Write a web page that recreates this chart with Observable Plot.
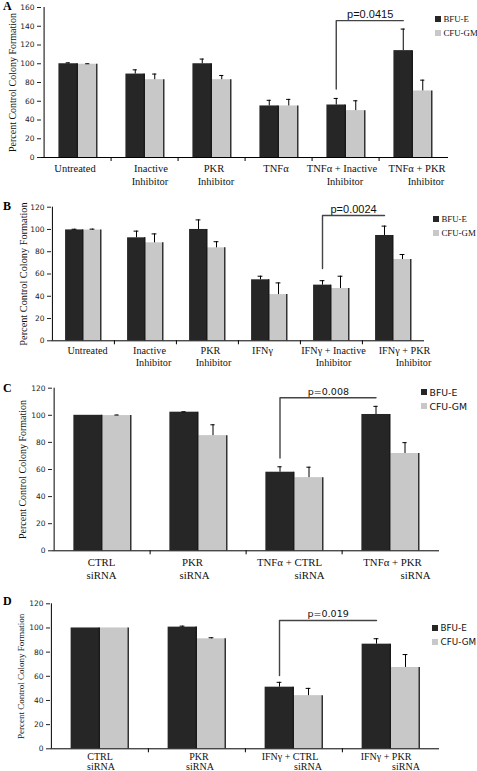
<!DOCTYPE html>
<html><head><meta charset="utf-8">
<script src="https://cdn.jsdelivr.net/npm/d3@7"></script>
<script src="https://cdn.jsdelivr.net/npm/@observablehq/plot@0.6"></script>
<style>
body{margin:0;background:#fff;}
#root{position:relative;width:477px;height:771px;overflow:hidden;background:#fff;}
.panel{position:absolute;left:0;}
.letter{position:absolute;left:3px;font:bold 12px "Liberation Serif",serif;line-height:12px;}
.legend{position:absolute;line-height:14px;color:#111;}
.legend .it{display:flex;align-items:center;height:14px;white-space:nowrap}
.sw{display:inline-block;width:5.5px;height:5.5px;margin-right:3px;flex:none}
</style></head><body><div id="root"></div>
<script>
const series = ["BFU-E", "CFU-GM"];
const colors = ["#262626", "#c8c8c8"];
const yLabel = "Percent Control Colony Formation";

// Panel A
const catsA = ["Untreated", "Inactive\nInhibitor", "PKR\nInhibitor", "TNFα", "TNFα + Inactive\nInhibitor", "TNFα + PKR\nInhibitor"];
const bfuA = [100, 89, 100, 55, 56, 114];
const bfuErrA = [1, 4.5, 5, 6, 7, 23];
const cfuA = [99.5, 83, 83, 55, 50, 71];
const cfuErrA = [0.5, 6, 4.5, 7, 10.5, 11.5];
const pA = "p=0.0415";
const bracketA = [73, 146];

// Panel B
const catsB = ["Untreated", "Inactive\nInhibitor", "PKR\nInhibitor", "IFNγ", "IFNγ + Inactive\nInhibitor", "IFNγ + PKR\nInhibitor"];
const bfuB = [99.6, 92.5, 100, 54.8, 50, 94.6];
const bfuErrB = [0.6, 6, 8.6, 3.2, 4, 8.4];
const cfuB = [99.5, 88, 83.5, 41.5, 47, 73];
const cfuErrB = [0.8, 8, 5.5, 10.5, 11, 4.5];
const pB = "p=0.0024";
const bracketB = [65, 112.5];

// Panel C
const catsC = ["CTRL\nsiRNA", "PKR\nsiRNA", "TNFα + CTRL\nsiRNA", "TNFα + PKR\nsiRNA"];
const bfuC = [100, 102.3, 58, 100.6];
const bfuErrC = [0, 0.3, 4, 6];
const cfuC = [99.8, 85, 54, 71.8];
const cfuErrC = [0.4, 8, 7.7, 8];
const pC = "p=0.008";
const bracketC = [68.4, 113];

// Panel D
const catsD = ["CTRL\nsiRNA", "PKR\nsiRNA", "IFNγ + CTRL\nsiRNA", "IFNγ + PKR\nsiRNA"];
const bfuD = [100, 100.7, 51, 86.6];
const bfuErrD = [0, 0.8, 4, 4.5];
const cfuD = [100, 91, 44, 67.3];
const cfuErrD = [0, 0.9, 6, 10.7];
const pD = "p=0.019";
const bracketD = [60.7, 106.2];

const yTicks = [0, 20, 40, 60, 80, 100, 120, 140, 160];

function panel(o) {
  const n = o.cats.length;
  const bw = (477 - o.ml - o.mr) / n;
  const w = o.barW;
  const rows = (vals, errs) => o.cats.map((c, i) => ({cat: c, value: vals[i], err: errs[i], top: vals[i] + errs[i]}));
  const b = rows(o.bfu, o.bfuErr), g = rows(o.cfu, o.cfuErr);
  const from = o.cats[o.cats.length - 2], to = o.cats[o.cats.length - 1];
  const bracket = [{x: from, y: o.bracket[0]}, {x: from, y: o.bracket[1]}, {x: to, y: o.bracket[1]}];
  const capInset = bw / 2 - 2.5;
  const labelFont = {frameAnchor: "bottom", lineAnchor: "top", fontFamily: "'Liberation Serif', serif", fontSize: o.labelSize, fill: "#111"};
  const labelMarks = [];
  o.cats.forEach((c, i) => {
    const [l1, l2] = c.split("\n");
    labelMarks.push(Plot.text([c], {x: d => d, text: () => l1, dy: o.labelDy, dx: o.shift[i][0], ...labelFont}));
    if (l2) labelMarks.push(Plot.text([c], {x: d => d, text: () => l2, dy: o.labelDy + o.lineGap, dx: o.shift[i][1], ...labelFont}));
  });
  return Plot.plot({
    width: 477, height: o.height,
    marginLeft: o.ml, marginRight: o.mr, marginTop: o.mt, marginBottom: o.mb,
    style: {fontFamily: "'DejaVu Sans', sans-serif", fontSize: "7.5px", color: "#222", background: "transparent", overflow: "visible"},
    x: {domain: o.cats, axis: null, padding: 0},
    y: {domain: [0, o.yMax], ticks: yTicks.filter(t => t <= o.yMax), tickSize: 4, tickPadding: 3, label: null},
    marks: [
      Plot.barY(b, {x: "cat", y: "value", fill: colors[0], insetLeft: bw / 2 - w, insetRight: bw / 2}),
      Plot.barY(g, {x: "cat", y: "value", fill: colors[1], insetLeft: bw / 2, insetRight: bw / 2 - w}),
      Plot.ruleX(b, {x: "cat", y1: 0, y2: "value", dx: -0.75, stroke: "#1a1a1a", strokeWidth: 1.5}),
      Plot.ruleX(g, {x: "cat", y1: 0, y2: "value", dx: w - 0.75, stroke: "#333", strokeWidth: 1.5}),
      Plot.ruleX(b.filter(d => d.err > 0), {x: "cat", y1: "value", y2: "top", dx: -w / 2, stroke: "#000"}),
      Plot.tickY(b.filter(d => d.err > 0), {x: "cat", y: "top", dx: -w / 2, insetLeft: capInset, insetRight: capInset, stroke: "#000"}),
      Plot.ruleX(g.filter(d => d.err > 0), {x: "cat", y1: "value", y2: "top", dx: w / 2, stroke: "#000"}),
      Plot.tickY(g.filter(d => d.err > 0), {x: "cat", y: "top", dx: w / 2, insetLeft: capInset, insetRight: capInset, stroke: "#000"}),
      Plot.ruleY([0], {stroke: "#000"}),
      Plot.ruleX([o.cats[0]], {dx: -bw / 2, y1: 0, y2: o.yMax, stroke: "#000"}),
      Plot.tickX(o.cats.slice(1), {x: d => d, dx: -bw / 2, insetTop: o.height - o.mt - o.mb, insetBottom: -4, stroke: "#000"}),
      ...labelMarks,
      Plot.text([yLabel], {frameAnchor: "left", textAnchor: "middle", rotate: -90, dx: o.ylabelX - o.ml, fontFamily: "'Liberation Serif', serif", fontSize: o.ylabelSize, fill: "#111"}),
      Plot.line(bracket, {x: "x", y: "y", dx: -w / 2, stroke: "#444", strokeWidth: 1.4}),
      Plot.text([{x: from, y: o.bracket[1], t: o.p}], {x: "x", y: "y", text: "t", dx: bw / 2 - w / 2, dy: -3, lineAnchor: "bottom",
        fontFamily: o.pFont, fontSize: o.pSize, fill: "#111"})
    ]
  });
}

const panels = [
  {letter: "A", top: 0, height: 190, ml: 41, mr: 29, mt: 7, mb: 33, yMax: 160, barW: 19.5, cats: catsA, bfu: bfuA, bfuErr: bfuErrA, cfu: cfuA, cfuErr: cfuErrA,
   p: pA, bracket: bracketA, labelDy: 7, lineGap: 13, labelSize: 10.5, ylabelX: 12, ylabelSize: 10, pFont: "'Liberation Sans', sans-serif", pSize: 11,
   shift: [[-3, -3], [6, 5], [2, 4], [-3, -3], [-4, -1], [4, 13]],
   legend: {left: 435, top: 12, font: "8.8px 'Liberation Serif', serif"}, letterTop: 0},
  {letter: "B", top: 195, height: 175, ml: 51, mr: 53, mt: 11.7, mb: 29.7, yMax: 120, barW: 18, cats: catsB, bfu: bfuB, bfuErr: bfuErrB, cfu: cfuB, cfuErr: cfuErrB,
   p: pB, bracket: bracketB, labelDy: 6, lineGap: 12, labelSize: 10.2, ylabelX: 23, ylabelSize: 10.3, pFont: "'Liberation Sans', sans-serif", pSize: 11,
   shift: [[4, 4], [4, 8], [3, 6], [-7, -7], [2, 2], [11, 20]],
   legend: {left: 433, top: 212, font: "8.8px 'Liberation Serif', serif"}, letterTop: 200},
  {letter: "C", top: 380, height: 200, ml: 52, mr: 38, mt: 7.7, mb: 29.7, yMax: 120, barW: 29, cats: catsC, bfu: bfuC, bfuErr: bfuErrC, cfu: cfuC, cfuErr: cfuErrC,
   p: pC, bracket: bracketC, labelDy: 8, lineGap: 13, labelSize: 10.8, ylabelX: 22, ylabelSize: 10, pFont: "'DejaVu Sans', sans-serif", pSize: 9.5,
   shift: [[-1, -1], [-6, -4], [-5, 15], [2, 25]],
   legend: {left: 421, top: 385, font: "9.3px 'DejaVu Sans', sans-serif"}, letterTop: 382},
  {letter: "D", top: 595, height: 176, ml: 50, mr: 38, mt: 8.3, mb: 22.7, yMax: 120, barW: 29, cats: catsD, bfu: bfuD, bfuErr: bfuErrD, cfu: cfuD, cfuErr: cfuErrD,
   p: pD, bracket: bracketD, labelDy: 4, lineGap: 10, labelSize: 10, ylabelX: 21, ylabelSize: 9, pFont: "'DejaVu Sans', sans-serif", pSize: 9.5,
   shift: [[0, 1], [2, 3], [-4, 14], [-5, 15]],
   legend: {left: 432, top: 621, font: "8.8px 'DejaVu Sans', sans-serif"}, letterTop: 595}
];

const root = document.getElementById("root");
for (const o of panels) {
  const div = document.createElement("div");
  div.className = "panel";
  div.style.top = o.top + "px";
  div.appendChild(panel(o));
  root.appendChild(div);
  const L = document.createElement("div");
  L.className = "letter";
  L.style.top = o.letterTop + "px";
  L.textContent = o.letter;
  root.appendChild(L);
  const lg = document.createElement("div");
  lg.className = "legend";
  lg.style.left = o.legend.left + "px";
  lg.style.top = o.legend.top + "px";
  lg.style.font = o.legend.font;
  series.forEach((s, i) => {
    const it = document.createElement("div");
    it.className = "it";
    const sw = document.createElement("span");
    sw.className = "sw";
    sw.style.background = colors[i];
    it.appendChild(sw);
    it.appendChild(document.createTextNode(s));
    lg.appendChild(it);
  });
  root.appendChild(lg);
}
</script></body></html>
